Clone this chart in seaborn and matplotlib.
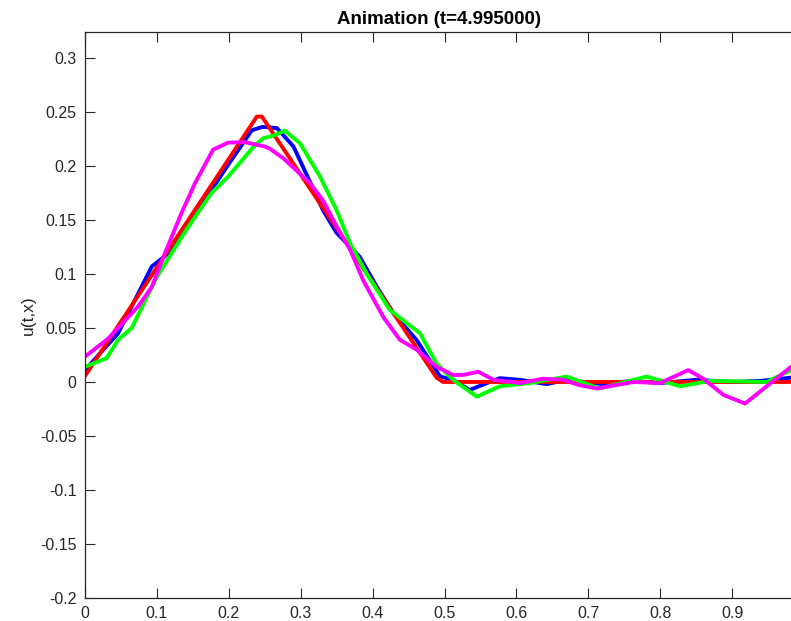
import matplotlib
matplotlib.use("Agg")
import matplotlib.pyplot as plt
import seaborn as sns
import pandas as pd

# ---- data ----
blue_x = [0.0, 0.046, 0.093, 0.116, 0.15, 0.2, 0.232, 0.246, 0.253, 0.267, 0.29, 0.318,
          0.331, 0.35, 0.369, 0.382, 0.406, 0.429, 0.461, 0.494, 0.512, 0.535, 0.559,
          0.577, 0.605, 0.642, 0.67, 0.72, 0.76, 0.8, 0.85, 0.9, 0.94, 0.982]
blue_y = [0.011, 0.045, 0.107, 0.119, 0.152, 0.202, 0.233, 0.236, 0.236, 0.235, 0.218, 0.178,
          0.159, 0.138, 0.125, 0.116, 0.088, 0.0636, 0.039, 0.005, 0.002, -0.0074, -0.001,
          0.0035, 0.002, -0.002, 0.002, -0.002, 0.001, -0.001, 0.002, 0.0, 0.001, 0.004]

red_x = [0.0, 0.239, 0.246, 0.489, 0.498, 0.982]
red_y = [0.0056, 0.2457, 0.2457, 0.004, 0.0, 0.0]

green_x = [0.0, 0.03, 0.046, 0.065, 0.0997, 0.14, 0.176, 0.199, 0.236, 0.248, 0.262, 0.278,
           0.299, 0.327, 0.35, 0.369, 0.392, 0.424, 0.466, 0.489, 0.512, 0.545, 0.577,
           0.619, 0.67, 0.707, 0.716, 0.781, 0.828, 0.869, 0.948, 0.982]
green_y = [0.014, 0.022, 0.039, 0.05, 0.097, 0.14, 0.175, 0.19, 0.219, 0.2256, 0.228, 0.2327,
           0.221, 0.19, 0.159, 0.128, 0.1, 0.0667, 0.045, 0.017, 0.002, -0.0136, -0.004,
           -0.001, 0.005, -0.004, -0.006, 0.005, -0.004, 0.001, 0.0, 0.011]

magenta_x = [0.0, 0.032, 0.074, 0.093, 0.111, 0.134, 0.153, 0.178, 0.199, 0.2225, 0.25,
             0.257, 0.276, 0.313, 0.331, 0.35, 0.369, 0.387, 0.415, 0.438, 0.461, 0.489,
             0.512, 0.526, 0.547, 0.568, 0.605, 0.637, 0.665, 0.688, 0.712, 0.763, 0.8,
             0.839, 0.86, 0.888, 0.918, 0.948, 0.982]
magenta_y = [0.0235, 0.04, 0.07, 0.088, 0.119, 0.156, 0.184, 0.215, 0.2216, 0.222, 0.218,
             0.216, 0.207, 0.184, 0.168, 0.144, 0.122, 0.094, 0.06, 0.039, 0.03, 0.014,
             0.0065, 0.0065, 0.0095, 0.002, -0.001, 0.003, 0.002, -0.003, -0.006, 0.0, -0.001,
             0.011, 0.003, -0.012, -0.02, -0.004, 0.014]

x_ticks = [0, 0.1, 0.2, 0.3, 0.4, 0.5, 0.6, 0.7, 0.8, 0.9]
x_ticklabels = ["0", "0.1", "0.2", "0.3", "0.4", "0.5", "0.6", "0.7", "0.8", "0.9"]
y_ticks = [-0.2, -0.15, -0.1, -0.05, 0, 0.05, 0.1, 0.15, 0.2, 0.25, 0.3]
y_ticklabels = ["-0.2", "-0.15", "-0.1", "-0.05", "0", "0.05", "0.1", "0.15", "0.2", "0.25", "0.3"]
title_text = "Animation (t=4.995000)"
y_label = "u(t,x)"

# ---- plotting ----
sns.set_style("white")
plt.rcParams["font.family"] = ["Liberation Sans", "DejaVu Sans"]

fig = plt.figure(figsize=(7.91, 6.21), dpi=100)
ax = fig.add_axes([85 / 791, 1 - 598 / 621, 708 / 791, (598 - 32) / 621])

series = [
    (blue_x, blue_y, (0, 0, 1)),
    (red_x, red_y, (1, 0, 0)),
    (green_x, green_y, (0, 1, 0)),
    (magenta_x, magenta_y, (1, 0, 1)),
]
for xs, ys, col in series:
    df = pd.DataFrame({"x": xs, "u": ys})
    sns.lineplot(data=df, x="x", y="u", ax=ax, color=col, linewidth=2.8,
                 sort=False, estimator=None)

ax.set_xlim(0, 0.9847)
ax.set_ylim(-0.2, 0.324)
ax.set_xticks(x_ticks)
ax.set_xticklabels(x_ticklabels)
ax.set_yticks(y_ticks)
ax.set_yticklabels(y_ticklabels)

gray = (0.15, 0.15, 0.15)
ax.tick_params(direction="in", length=7, width=0.8, color=gray, labelcolor=gray,
               labelsize=11.5, top=True, right=False, bottom=True, left=True, pad=6)
for s in ax.spines.values():
    s.set_color(gray)
    s.set_linewidth(0.9)
ax.spines["right"].set_visible(False)

ax.set_xlabel("")
ax.set_ylabel(y_label, fontsize=12.5, color=gray, labelpad=3)
ax.set_title(title_text, fontsize=13.5, fontweight="bold", color="black", pad=6)

fig.savefig("out.png", dpi=100)
